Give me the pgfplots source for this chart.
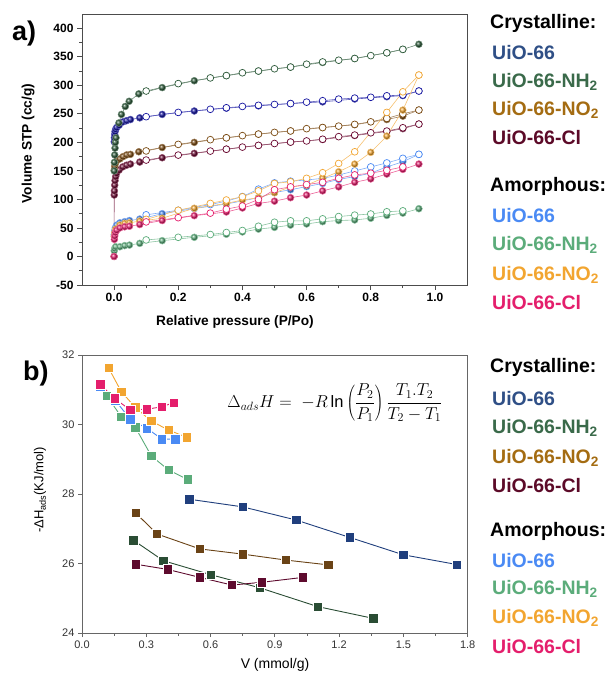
\documentclass[border=0pt]{standalone}
\usepackage{fontspec}
\setmainfont{Liberation Sans}
\usepackage{pgfplots}
\pgfplotsset{compat=1.18}

% crystalline (panel a markers / panel b squares / legend text)
\definecolor{aCU}{HTML}{1414A0}
\definecolor{aCN}{HTML}{2D5A3A}
\definecolor{aCO}{HTML}{7A4A12}
\definecolor{aCC}{HTML}{6A0830}
\definecolor{bCU}{HTML}{203F7D}
\definecolor{bCN}{HTML}{2A4D34}
\definecolor{bCO}{HTML}{6A4316}
\definecolor{bCC}{HTML}{5E0B2E}
\definecolor{tCU}{HTML}{2F4F86}
\definecolor{tCN}{HTML}{3A6A4A}
\definecolor{tCO}{HTML}{A46C12}
\definecolor{tCC}{HTML}{5C0A28}
% amorphous
\definecolor{mU}{HTML}{4A8AF4}
\definecolor{mN}{HTML}{5BAC7A}
\definecolor{mO}{HTML}{F2A530}
\definecolor{mC}{HTML}{E41E6C}

\pgfplotsset{
  ads/.style={color=#1!70, line width=0.6pt, mark=ball, mark size=3.4pt,
    mark options={ball color=#1}},
  des/.style={color=#1!70, line width=0.6pt, mark=*, mark size=3.4pt,
    mark options={draw=#1, fill=white, line width=0.7pt}},
  bsq/.style={color=#1, line width=0.9pt, mark=square*, mark size=4.7pt,
    mark options={fill=#1, draw=white, line width=0.6pt}},
}

\newcommand{\lgd}{\fontsize{19.5}{22}\selectfont\bfseries}

\begin{document}
\begin{tikzpicture}
\useasboundingbox (0pt,0pt) rectangle (611pt,-674pt);

% ---------------- panel a ----------------
\begin{axis}[
  at={(82pt,-285pt)}, anchor=south west,
  width=385pt, height=271pt, scale only axis,
  xmin=-0.1, xmax=1.1, ymin=-50, ymax=425,
  xtick={0,0.2,...,1.0}, ytick={-50,0,...,400},
  minor x tick num=1, minor y tick num=1,
  xtick pos=left, ytick pos=left, tick align=outside,
  major tick length=5pt, minor tick length=3pt,
  axis line style={draw=black!70, line width=0.9pt},
  every tick/.style={black!70, line width=0.8pt},
  /pgf/number format/assume math mode=true,
  xticklabel style={font=\fontsize{12}{14}\selectfont\bfseries,
    /pgf/number format/.cd, fixed, fixed zerofill, precision=1},
  yticklabel style={font=\fontsize{12}{14}\selectfont\bfseries},
  clip=false,
]
% crystalline UiO-66-Cl
\addplot[ads=aCC] coordinates {(0,0) (0.0005,107.7) (0.001,115) (0.002,125) (0.003,133) (0.005,140) (0.008,146) (0.016,151.5) (0.027,157) (0.039,160) (0.051,162) (0.08,165.5) (0.15,173) (0.25,180.7) (0.35,188) (0.45,194.7) (0.55,200.5) (0.65,205) (0.75,212) (0.85,219) (0.9,224) (0.95,232)};
\addplot[des=aCC] coordinates {(0.95,232) (0.9,225.6) (0.85,219.8) (0.8,216.8) (0.75,212.8) (0.7,210) (0.65,205.5) (0.6,202.5) (0.55,200.5) (0.5,198) (0.45,194.7) (0.4,191.7) (0.35,188) (0.3,184.7) (0.2,177.7) (0.1,169)};
% crystalline UiO-66-NO2
\addplot[ads=aCO] coordinates {(0.0005,151) (0.002,158) (0.004,163) (0.007,167) (0.01,169) (0.018,171) (0.028,175) (0.039,178) (0.051,179) (0.077,183.5) (0.15,191) (0.25,200) (0.35,208) (0.45,214.5) (0.55,220) (0.65,226) (0.75,231) (0.85,240) (0.9,246) (0.95,256.6)};
\addplot[des=aCO] coordinates {(0.95,256.6) (0.9,250) (0.85,242) (0.8,236) (0.75,231.5) (0.7,228.5) (0.65,226) (0.6,224) (0.55,220) (0.5,217.5) (0.45,214.5) (0.4,211.8) (0.35,208) (0.3,204.7) (0.2,196.5) (0.1,185)};
% crystalline UiO-66
\addplot[ads=aCU] coordinates {(0.0005,201) (0.001,208) (0.002,214) (0.003,219) (0.005,223) (0.008,226) (0.016,230) (0.028,236) (0.039,238) (0.051,240) (0.08,243) (0.15,249) (0.25,255) (0.35,260) (0.45,264) (0.55,268) (0.65,271) (0.75,276) (0.85,280) (0.9,282) (0.95,290)};
\addplot[des=aCU] coordinates {(0.95,290) (0.9,283) (0.85,281.6) (0.8,279) (0.75,277.6) (0.7,275.8) (0.65,273) (0.6,270.5) (0.55,268) (0.5,266.5) (0.45,265) (0.4,263) (0.35,260.6) (0.3,258) (0.2,252.5) (0.1,245)};
% crystalline UiO-66-NH2
\addplot[ads=aCN] coordinates {(0.0005,150) (0.001,165) (0.002,178) (0.003,190) (0.004,200) (0.006,208) (0.015,234) (0.023,249) (0.035,263) (0.047,272) (0.077,285) (0.15,296) (0.25,308) (0.35,317) (0.45,325) (0.55,332) (0.65,340) (0.75,347) (0.85,357) (0.9,363) (0.95,372)};
\addplot[des=aCN] coordinates {(0.9,363) (0.85,357) (0.8,352) (0.75,347) (0.7,344) (0.65,341) (0.6,337) (0.55,332) (0.5,329) (0.45,325) (0.4,322) (0.35,317) (0.3,313) (0.2,303) (0.1,290)};
% amorphous UiO-66-NH2
\addplot[ads=mN] coordinates {(0.0005,10) (0.002,14) (0.005,17) (0.018,17) (0.033,19) (0.048,20) (0.08,23) (0.15,27.7) (0.25,33.6) (0.35,39) (0.4,43) (0.45,48) (0.5,51) (0.55,55) (0.6,57) (0.65,61) (0.7,63) (0.75,64) (0.8,67) (0.85,72) (0.9,76) (0.95,83.7)};
\addplot[des=mN] coordinates {(0.9,80) (0.85,78.4) (0.8,74.5) (0.75,72.5) (0.7,70) (0.65,66) (0.6,62.5) (0.55,62.5) (0.5,60) (0.45,53) (0.4,45.5) (0.35,42) (0.3,38.5) (0.2,33.6) (0.1,29)};
% amorphous UiO-66
\addplot[ads=mU] coordinates {(0.0005,38) (0.002,45) (0.004,50) (0.008,55) (0.018,59) (0.033,61) (0.048,63) (0.08,65.6) (0.15,75) (0.25,84) (0.35,92) (0.45,103) (0.5,112) (0.55,117) (0.6,122.5) (0.65,128) (0.7,135) (0.75,140) (0.8,146) (0.85,157) (0.9,166) (0.95,179)};
\addplot[des=mU] coordinates {(0.95,179) (0.9,172) (0.85,164) (0.8,157) (0.75,150) (0.7,142.7) (0.65,137) (0.6,134) (0.55,132) (0.5,129) (0.45,118) (0.4,105) (0.35,97) (0.3,91) (0.2,81) (0.1,73)};
% amorphous UiO-66-NO2
\addplot[ads=mO] coordinates {(0.0005,35) (0.002,42) (0.005,48) (0.018,55) (0.033,58) (0.048,59) (0.08,62) (0.15,67) (0.25,84.5) (0.35,93) (0.4,99) (0.45,103) (0.5,111.7) (0.55,122) (0.6,125) (0.65,137) (0.7,148.5) (0.75,162) (0.8,182.5) (0.85,211) (0.9,256.6) (0.95,318)};
\addplot[des=mO] coordinates {(0.95,318) (0.9,288.6) (0.85,252.5) (0.75,183.5) (0.7,163) (0.65,146.8) (0.6,137) (0.55,131) (0.5,128) (0.45,115) (0.4,104.6) (0.35,99) (0.3,93) (0.2,81) (0.1,65)};
% amorphous UiO-66-Cl
\addplot[ads=mC] coordinates {(0,0) (0.001,30) (0.002,36) (0.004,42) (0.008,46) (0.018,50) (0.033,52) (0.048,53) (0.08,56) (0.15,63) (0.25,71.5) (0.35,78) (0.4,85) (0.45,93) (0.5,97) (0.55,103) (0.6,107.7) (0.65,115) (0.7,122) (0.75,130) (0.8,136) (0.85,144.5) (0.9,152.7) (0.95,162)};
\addplot[des=mC] coordinates {(0.9,157) (0.85,151) (0.8,146) (0.75,143) (0.7,137) (0.65,130) (0.6,126) (0.55,122) (0.5,117) (0.45,100) (0.4,88.5) (0.35,83) (0.3,76) (0.2,68) (0.1,60.6)};
\end{axis}

% ---------------- panel b ----------------
\begin{axis}[
  at={(82pt,-633pt)}, anchor=south west,
  width=385.7pt, height=278pt, scale only axis,
  xmin=0, xmax=1.8, ymin=24, ymax=32,
  xtick={0,0.3,...,1.8}, ytick={24,26,...,32},
  minor x tick num=1,
  xtick pos=left, ytick pos=left, tick align=outside,
  major tick length=4pt, minor tick length=2.5pt,
  axis line style={draw=black!60, line width=0.9pt},
  every tick/.style={black!60, line width=0.8pt},
  /pgf/number format/assume math mode=true,
  xticklabel style={font=\fontsize{11}{13}\selectfont, text=black!80,
    /pgf/number format/.cd, fixed, fixed zerofill, precision=1},
  yticklabel style={font=\fontsize{11}{13}\selectfont, text=black!80},
  clip=false,
]
\addplot[bsq=bCU] coordinates {(0.5,27.85) (0.75,27.63) (1.0,27.25) (1.25,26.75) (1.5,26.25) (1.75,25.97)};
\addplot[bsq=bCO] coordinates {(0.25,27.46) (0.35,26.85) (0.55,26.42) (0.75,26.27) (0.95,26.1) (1.15,25.96)};
\addplot[bsq=bCN] coordinates {(0.24,26.67) (0.38,26.08) (0.6,25.68) (0.83,25.3) (1.1,24.76) (1.36,24.42)};
\addplot[bsq=bCC] coordinates {(0.25,25.98) (0.4,25.83) (0.55,25.6) (0.7,25.38) (0.84,25.46) (1.03,25.6)};
\addplot[bsq=mN] coordinates {(0.117,30.82) (0.183,30.22) (0.249,29.92) (0.323,29.1) (0.404,28.69) (0.493,28.42)};
\addplot[bsq=mU] coordinates {(0.085,31.09) (0.155,30.7) (0.225,30.15) (0.303,29.89) (0.373,29.58) (0.436,29.58)};
\addplot[bsq=mO] coordinates {(0.124,31.63) (0.183,30.95) (0.249,30.49) (0.323,30.1) (0.404,29.84) (0.49,29.63)};
\addplot[bsq=mC] coordinates {(0.085,31.16) (0.152,30.75) (0.225,30.42) (0.303,30.44) (0.373,30.51) (0.428,30.63)};
\end{axis}

% axis labels and panel letters
\node[rotate=90, font=\fontsize{13.7}{16}\selectfont\bfseries] at (28pt,-143.5pt) {Volume STP (cc/g)};
\node[font=\fontsize{13.7}{16}\selectfont\bfseries] at (235pt,-322pt) {Relative pressure (P/Po)};
\node[rotate=90, font=\fontsize{13}{15}\selectfont] at (40pt,-490pt) {-ΔH\textsubscript{ads}(KJ/mol)};
\node[font=\fontsize{14}{16}\selectfont] at (275pt,-665pt) {V (mmol/g)};
\node[anchor=base west, inner sep=0pt, font=\fontsize{27}{30}\selectfont\bfseries] at (12pt,-40.5pt) {a)};
\node[anchor=base west, inner sep=0pt, font=\fontsize{27}{30}\selectfont\bfseries] at (23pt,-380pt) {b)};
\node[font=\fontsize{16.5}{19}\selectfont] at (335pt,-403pt)
  {$\displaystyle \Delta_{ads}H =\; -R\ln\left(\frac{P_2}{P_1}\right)\frac{T_1.T_2}{T_2-T_1}$};

% legend text, panel a
\begin{scope}[every node/.style={anchor=west, inner sep=0pt, font=\lgd}]
\node at (490pt,-23pt) {Crystalline:};
\node[text=tCU] at (492pt,-53pt) {UiO-66};
\node[text=tCN] at (492pt,-82pt) {UiO-66-NH\textsubscript{2}};
\node[text=tCO] at (492pt,-110pt) {UiO-66-NO\textsubscript{2}};
\node[text=tCC] at (492pt,-138pt) {UiO-66-Cl};
\node at (490pt,-186pt) {Amorphous:};
\node[text=mU] at (492pt,-216pt) {UiO-66};
\node[text=mN] at (492pt,-245pt) {UiO-66-NH\textsubscript{2}};
\node[text=mO] at (492pt,-275pt) {UiO-66-NO\textsubscript{2}};
\node[text=mC] at (492pt,-303pt) {UiO-66-Cl};
% panel b
\node at (490pt,-367pt) {Crystalline:};
\node[text=tCU] at (492pt,-399pt) {UiO-66};
\node[text=tCN] at (492pt,-428pt) {UiO-66-NH\textsubscript{2}};
\node[text=tCO] at (492pt,-458pt) {UiO-66-NO\textsubscript{2}};
\node[text=tCC] at (492pt,-486pt) {UiO-66-Cl};
\node at (490pt,-531pt) {Amorphous:};
\node[text=mU] at (492pt,-561pt) {UiO-66};
\node[text=mN] at (492pt,-589pt) {UiO-66-NH\textsubscript{2}};
\node[text=mO] at (492pt,-618pt) {UiO-66-NO\textsubscript{2}};
\node[text=mC] at (492pt,-647pt) {UiO-66-Cl};
\end{scope}
\end{tikzpicture}
\end{document}
